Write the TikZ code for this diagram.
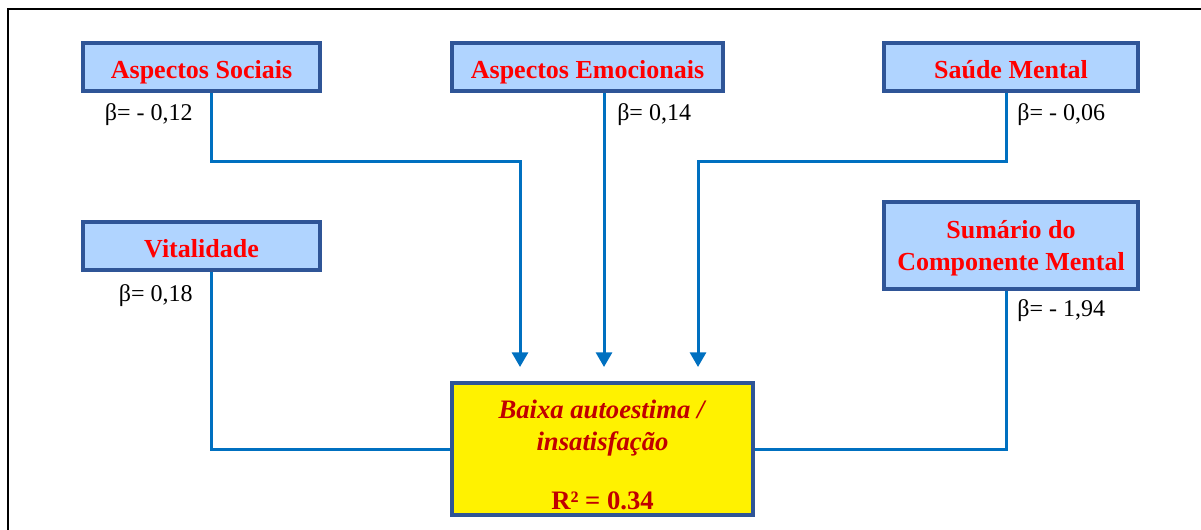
\documentclass[tikz,border=0pt]{standalone}
\usepackage{fontspec}
\setmainfont{Liberation Serif}
\usepackage{xcolor}
\usepackage{tikz}
\usetikzlibrary{arrows.meta,calc}
\definecolor{azulLinha}{HTML}{0070C0}
\definecolor{azulBorda}{HTML}{2F5597}
\definecolor{azulFundo}{HTML}{B0D4FF}
\definecolor{vinho}{HTML}{C00000}
\tikzset{
    fator/.style={
        rectangle,
        draw=azulBorda,
        line width=3pt,
        fill=azulFundo,
        align=center,
        text=red,
        font=\fontsize{19.5}{24}\selectfont\bfseries,
        minimum height=36pt,
        inner sep=2pt
    },
    umalinha/.style={fator, text height=20pt, text depth=3.5pt},
    desfecho/.style={
        fator,
        fill=yellow,
        text=vinho,
        font=\fontsize{20}{24}\selectfont\bfseries,
        minimum width=225.75pt,
        minimum height=99pt
    },
    coef/.style={inner sep=0pt, font=\fontsize{18}{22}\selectfont},
    ligacao/.style={draw=azulLinha, line width=2.25pt},
    seta/.style={ligacao, -{Triangle[length=11pt,width=12pt]}}
}

\begin{document}
\begin{tikzpicture}[x=0.75pt, y=-0.75pt]

    \useasboundingbox (0,0) rectangle (1201,529);
    \clip (0,0) rectangle (1201,529);

    % moldura
    \draw[line width=1.5pt] (8,560) -- (8,9) -- (1240,9);

    \node[umalinha, minimum width=177.75pt] (sociais) at (201.5,67)
    {Aspectos Sociais};

    \node[umalinha, minimum width=203.25pt] (emocionais) at (587.5,67)
    {Aspectos Emocionais};

    \node[umalinha, minimum width=190.5pt] (saude) at (1011,67)
    {Saúde Mental};

    \node[umalinha, minimum width=177.75pt] (vitalidade) at (201.5,246)
    {Vitalidade};

    \node[fator, minimum width=190.5pt, minimum height=65.25pt] (sumario) at (1011,245.5)
    {\rule{0pt}{18pt}Sumário do\\Componente Mental};

    \node[desfecho] (alvo) at (602.5,449)
    {\rule{0pt}{23pt}\textit{Baixa autoestima /}\\\textit{insatisfação}\\[20pt]R² = 0.34};

    % coeficientes
    \node[coef, anchor=east] (b1) at (193,115) {β= - 0,12};
    \node[coef, anchor=west] (b2) at (617,115) {β= 0,14};
    \node[coef, anchor=west] (b3) at (1017,115) {β= - 0,06};
    \node[coef, anchor=east] (b4) at (193,296) {β= 0,18};
    \node[coef, anchor=west] (b5) at (1017,311) {β= - 1,94};

    % pontas das setas
    \coordinate (nivel) at (0,161);
    \coordinate (seta1) at (520,367);
    \coordinate (seta2) at (604,367);
    \coordinate (seta3) at (698,367);

    \draw[seta] ($(sociais.south)+(9.5,0)$) |- (nivel -| seta1) -- (seta1);
    \draw[seta] ($(emocionais.south)+(16.5,0)$) -- (seta2);
    \draw[seta] ($(saude.south)+(-5,0)$) |- (nivel -| seta3) -- (seta3);

    \draw[ligacao] ($(vitalidade.south)+(9.5,0)$) |- (alvo.west);
    \draw[ligacao] ($(sumario.south)+(-5,0)$) |- (alvo.east);

\end{tikzpicture}
\end{document}
